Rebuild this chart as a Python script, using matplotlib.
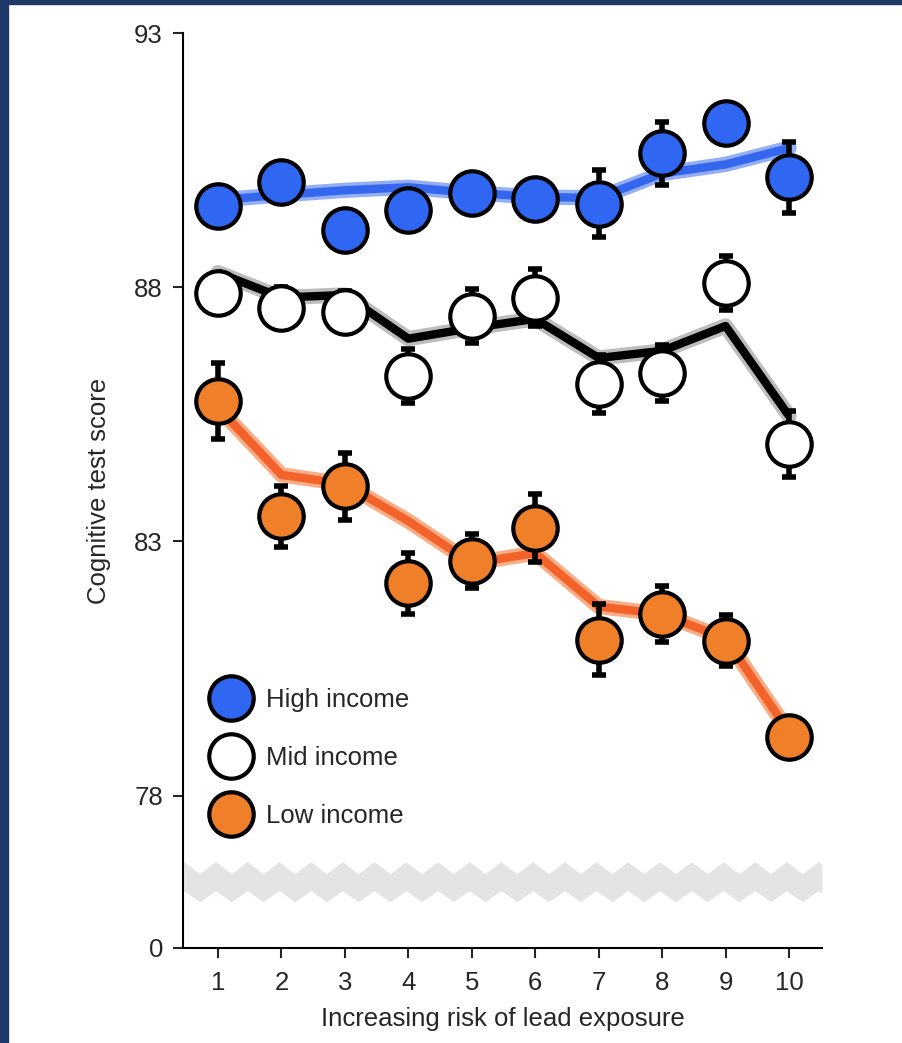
import numpy as np
import matplotlib
matplotlib.use("Agg")
import matplotlib.pyplot as plt
from matplotlib.lines import Line2D
from matplotlib.patches import Rectangle

plt.rcParams['font.family'] = ['Liberation Sans', 'DejaVu Sans']

# risk deciles
risk = [1, 2, 3, 4, 5, 6, 7, 8, 9, 10]

# high income group
high = [89.60, 90.07, 89.13, 89.52, 89.85, 89.73, 89.65, 90.64, 91.23, 90.17]
high_err = [0.35, 0.35, 0.35, 0.35, 0.35, 0.35, 0.66, 0.62, 0.35, 0.70]
high_fit = [89.72, 89.82, 89.91, 89.97, 89.86, 89.78, 89.76, 90.24, 90.42, 90.74]

# mid income group
mid = [87.89, 87.60, 87.52, 86.26, 87.44, 87.80, 86.10, 86.32, 88.09, 84.92]
mid_err = [0.40, 0.40, 0.40, 0.53, 0.53, 0.57, 0.57, 0.55, 0.53, 0.65]
mid_fit = [88.29, 87.80, 87.85, 86.99, 87.20, 87.38, 86.61, 86.75, 87.24, 85.47]

# low income group
low = [85.77, 83.50, 84.09, 82.18, 82.61, 83.26, 81.07, 81.57, 81.05, 79.16]
low_err = [0.75, 0.60, 0.66, 0.60, 0.53, 0.67, 0.69, 0.55, 0.50, 0.30]
low_fit = [85.63, 84.31, 84.13, 83.40, 82.57, 82.77, 81.72, 81.57, 81.09, 79.25]

labels = ['High income', 'Mid income', 'Low income']
ytick_pos = [75, 78, 83, 88, 93]
ytick_lab = ['0', '78', '83', '88', '93']

txt = '#262626'
fs = 18.5

fig = plt.figure(figsize=(9.02, 10.43), dpi=100)
ax = fig.add_axes([0.2029, 0.0911, 0.7084, 0.877])

# navy frame bits on the left / top edge
fig.patches.append(Rectangle((0, 0), 8 / 902, 1, transform=fig.transFigure,
                             color='#1f3a68', zorder=10))
fig.patches.append(Rectangle((0, 1 - 4 / 1043), 1, 4 / 1043, transform=fig.transFigure,
                             color='#1f3a68', zorder=10))

groups = [
    (high, high_err, high_fit, '#2f66f2', '#3566ee', '#92aef6'),
    (mid, mid_err, mid_fit, 'white', 'black', '#bdbdbd'),
    (low, low_err, low_fit, '#f07f2a', '#f2622a', '#f9ad85'),
]

for vals, err, fit, fc, lc, bc in groups:
    ax.plot(risk, fit, color=bc, lw=11, solid_capstyle='round', solid_joinstyle='round', zorder=2)
    ax.plot(risk, fit, color=lc, lw=6, solid_capstyle='butt', zorder=2.5)
    ax.errorbar(risk, vals, yerr=err, fmt='none', ecolor='black', elinewidth=4,
                capsize=5, capthick=4, zorder=3)
    ax.plot(risk, vals, 'o', ms=32, mfc=fc, mec='black', mew=3, zorder=4)

# axis break band
xs = np.linspace(0.46, 10.52, 800)
tri = 2 * np.abs(((xs - 0.46) / 0.5) % 1 - 0.5) * 2 - 1
ax.fill_between(xs, 76.02 + 0.11 * tri, 76.58 + 0.12 * tri, color='#e4e4e4', lw=0, zorder=1)

ax.set_xlim(0.448, 10.52)
ax.set_ylim(75, 93)
ax.set_xticks(risk)
ax.set_yticks(ytick_pos)
ax.set_yticklabels(ytick_lab)

for s in ['top', 'right']:
    ax.spines[s].set_visible(False)
for s in ['left', 'bottom']:
    ax.spines[s].set_linewidth(1.5)

ax.tick_params(axis='both', length=7.5, width=1.5, labelsize=fs, colors=txt)
ax.tick_params(axis='y', pad=7)
ax.tick_params(axis='x', pad=9)

ax.set_xlabel('Increasing risk of lead exposure', fontsize=fs, color=txt, labelpad=9)
ax.set_ylabel('Cognitive test score', fontsize=fs, color=txt, labelpad=17)

handles = [Line2D([], [], marker='o', ls='none', ms=32, mfc=g[3], mec='black', mew=3)
           for g in groups]
ax.legend(handles, labels, loc='upper left', bbox_to_anchor=(0.027, 0.298), frameon=False,
          fontsize=fs, handletextpad=0.65, labelspacing=1.32, borderpad=0,
          handlelength=1.4, labelcolor=txt)

fig.savefig('out.png', dpi=100)
